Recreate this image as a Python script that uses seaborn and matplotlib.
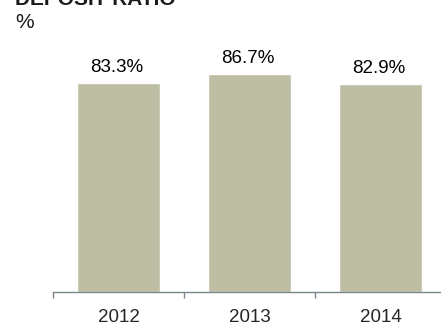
import matplotlib
matplotlib.use("Agg")
import matplotlib.pyplot as plt
import seaborn as sns
import pandas as pd

years = ["2012", "2013", "2014"]
ratios = [83.3, 86.7, 82.9]
labels = ["83.3%", "86.7%", "82.9%"]
title = "DEPOSIT RATIO"
unit = "%"

sns.set_style("white")
plt.rcParams["font.family"] = ["Liberation Sans", "DejaVu Sans"]

W, H = 441, 327
fig = plt.figure(figsize=(W / 100, H / 100), dpi=100)
ax_left, ax_right = 53, 446
ax_bottom, ax_top = 292, 40
ax = fig.add_axes([ax_left / W, 1 - ax_bottom / H, (ax_right - ax_left) / W, (ax_bottom - ax_top) / H])

df = pd.DataFrame({"year": years, "ratio": ratios})
sns.barplot(data=df, x="year", y="ratio", color="#BEBEA4", saturation=1, width=0.63, ax=ax)
ax.set_xlim(-0.5, 2.5)
ax.set_ylim(0, 100.4)

for i, (v, lab) in enumerate(zip(ratios, labels)):
    ax.annotate(lab, (i, v), xytext=(-1, 8), textcoords="offset points",
                ha="center", va="baseline", fontsize=13.5, color="#000000")

for s in ["top", "right", "left"]:
    ax.spines[s].set_visible(False)
axis_col = "#7A868C"
ax.spines["bottom"].set_color(axis_col)
ax.spines["bottom"].set_linewidth(1.0)
ax.set_yticks([])
ax.set_xticks([0, 1, 2])
ax.set_xticklabels(years, fontsize=13.5)
ax.set_xticks([-0.5, 0.5, 1.5, 2.5], minor=True)
ax.tick_params(axis="x", which="major", bottom=True, length=0, pad=12.5)
ax.tick_params(axis="x", which="minor", bottom=True, length=4.5, color=axis_col, width=1.0, direction="out")
ax.set_xlabel("")
ax.set_ylabel("")

fig.text(15 / W, 1 - 5 / H, title, fontsize=15, fontweight="bold", color="#1a1a1a", va="baseline", ha="left")
fig.text(15 / W, 1 - 28 / H, unit, fontsize=15, color="#1a1a1a", va="baseline", ha="left")

fig.savefig("out.png", dpi=100)
